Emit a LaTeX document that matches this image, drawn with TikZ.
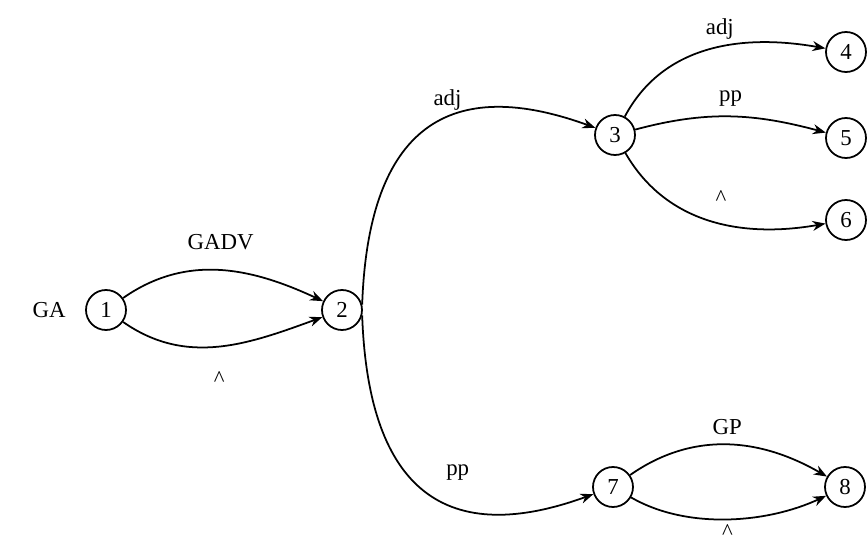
\documentclass[tikz,border=0pt]{standalone}
\usepackage{fontspec}
\setmainfont{Liberation Serif}
\usetikzlibrary{arrows.meta,positioning}
\begin{document}
\begin{tikzpicture}[
    etat/.style={draw, circle, line width=1pt, minimum size=0.8cm, inner sep=0pt, font=\fontsize{13}{15}\selectfont},
    arc/.style={line width=1pt, -{Stealth[length=2.6mm,width=2mm]}},
    lab/.style={font=\fontsize{13}{15}\selectfont, inner sep=1pt}
  ]
  \useasboundingbox (0,0) rectangle (17.34,10.88);
  %Etats
  \node[etat] (n1) at (2.12,4.68) {1};
  \node[etat] (n2) at (6.84,4.68) {2};
  \node[etat] (n3) at (12.3,8.18) {3};
  \node[etat] (n4) at (16.92,9.84) {4};
  \node[etat] (n5) at (16.92,8.12) {5};
  \node[etat] (n6) at (16.92,6.48) {6};
  \node[etat] (n7) at (12.26,1.14) {7};
  \node[etat] (n8) at (16.9,1.14) {8};
  \node[lab, left=0.35cm of n1] (ga) {GA};
  %Transitions
  \draw[arc] (n1) to[out=35,in=155] node[lab,midway,above=0.35cm] {GADV} (n2);
  \draw[arc] (n1) to[out=-35,in=-160] node[lab,midway,below=0.45cm] {\textasciicircum} (n2);
  \draw[arc] (n2.15) to[out=88,in=160,looseness=1.45] node[lab,pos=0.6,above=0.1cm] {adj} (n3);
  \draw[arc] (n2.-15) to[out=-88,in=-160,looseness=1.45] node[lab,pos=0.64,above=0.5cm] {pp} (n7);
  \draw[arc] (n3) to[out=62,in=170] node[lab,pos=0.55,above=0.1cm] {adj} (n4);
  \draw[arc] (n3) to[out=15,in=165] node[lab,midway,above=0.15cm] {pp} (n5);
  \draw[arc] (n3) to[out=-60,in=-170] node[lab,pos=0.55,above=0.3cm] {\textasciicircum} (n6);
  \draw[arc] (n7) to[out=35,in=150] node[lab,midway,above=0.15cm] {GP} (n8);
  \draw[arc] (n7) to[out=-30,in=-155,looseness=0.85] node[lab,midway,below=0.05cm] {\textasciicircum} (n8);
\end{tikzpicture}
\end{document}
